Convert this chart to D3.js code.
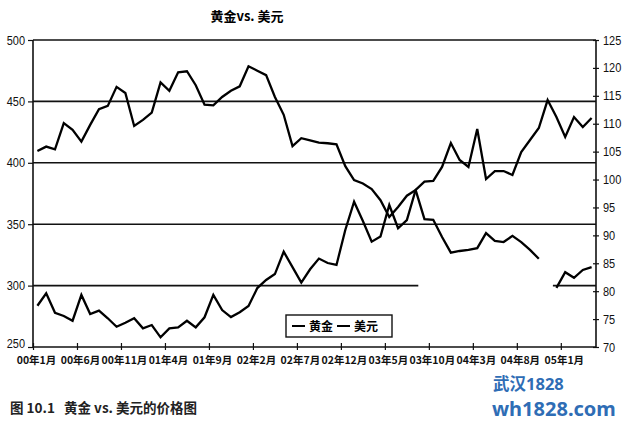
<!DOCTYPE html>
<html>
<head>
<meta charset="utf-8">
<script src="https://cdn.jsdelivr.net/npm/d3@7/dist/d3.min.js"></script>
<style>
  html, body { margin: 0; padding: 0; background: #fff; }
  svg { display: block; }
</style>
</head>
<body>
<svg id="chart" width="623" height="421"></svg>
<script>
// ---- data (monthly, Jan 2000 .. Apr 2005) ----
const monthCount = 64;
const tickMonths = [0, 5, 10, 15, 20, 25, 30, 35, 40, 45, 50, 55, 60];
const tickLabels = ["00年1月", "00年6月", "00年11月", "01年4月", "01年9月", "02年2月", "02年7月",
                    "02年12月", "03年5月", "03年10月", "04年3月", "04年8月", "05年1月"];
const leftTicks = [250, 300, 350, 400, 450, 500];
const rightTicks = [70, 75, 80, 85, 90, 95, 100, 105, 110, 115, 120, 125];
const gridValues = [300, 350, 400, 450, 500];

// 黄金 (left axis)
const gold = [283.6, 293.7, 277.9, 275.3, 271.4, 292.4, 276.9, 279.6, 273.4, 266.5,
              269.8, 273.4, 265.2, 267.9, 257.9, 265.2, 266.0, 271.4, 266.0, 274.2,
              292.4, 280.1, 274.4, 278.3, 283.4, 298.0, 304.6, 309.4, 327.6, 315.0,
              302.5, 313.3, 322.0, 318.4, 316.8, 345.3, 368.3, 352.6, 335.8, 339.9,
              365.6, 346.7, 353.4, 377.9, 384.6, 385.2, 396.6, 416.1, 402.3, 396.6,
              427.5, 386.8, 393.3, 393.3, 390.1, 408.8, 418.6, 428.3, 451.1, 437.3,
              421.0, 437.3, 429.2, 436.5];
// 美元 (right axis); null = missing
const dollar = [105.1, 105.9, 105.4, 110.1, 108.9, 106.8, 109.8, 112.6, 113.2, 116.6,
                115.5, 109.6, 110.7, 112.0, 117.4, 115.9, 119.2, 119.4, 116.9, 113.4,
                113.3, 114.8, 115.9, 116.7, 120.3, 119.5, 118.7, 114.8, 111.6, 106.0,
                107.4, 107.0, 106.6, 106.5, 106.3, 102.4, 99.9, 99.3, 98.3, 96.3,
                93.3, 95.1, 97.1, 98.1, 92.9, 92.8, 89.7, 86.9, 87.2, 87.4,
                87.7, 90.4, 89.0, 88.8, 89.9, 88.8, 87.4, 85.8, null, 80.6,
                83.4, 82.4, 83.8, 84.3];
const seriesNames = ["黄金", "美元"];
const gridGap300 = [43.8, 59.1]; // months where the 300 line is broken

// ---- layout ----
const svg = d3.select("#chart");
const L = 33, R = 596, T = 40, B = 347;
const x = d3.scaleLinear().domain([0, monthCount]).range([L, R]);
const yL = d3.scaleLinear().domain([250, 500]).range([B, T]);
const yR = d3.scaleLinear().domain([70, 125]).range([B, T]);
const numFont = "'Liberation Sans',Arial,sans-serif";
const cjk = "'Noto Sans CJK SC','Noto Sans',sans-serif";

svg.append("rect").attr("width", 623).attr("height", 421).attr("fill", "#fff");

// title
svg.append("text").attr("x", 247).attr("y", 21).attr("text-anchor", "middle")
  .attr("font-family", cjk).attr("font-weight", 700).attr("font-size", 13)
  .text("黄金vs. 美元");

// gridlines
const grid = svg.append("g").attr("stroke", "#111").attr("stroke-width", 1.6);
gridValues.forEach(v => {
  if (v === 300) {
    grid.append("line").attr("x1", x(0)).attr("x2", x(gridGap300[0])).attr("y1", yL(v)).attr("y2", yL(v));
    grid.append("line").attr("x1", x(gridGap300[1])).attr("x2", x(monthCount)).attr("y1", yL(v)).attr("y2", yL(v));
  } else {
    grid.append("line").attr("x1", x(0)).attr("x2", x(monthCount)).attr("y1", yL(v)).attr("y2", yL(v));
  }
});

// condensed numeric labels
function condense(sel) {
  sel.attr("font-family", numFont).attr("font-size", 12.5).attr("fill", "#111")
    .attr("lengthAdjust", "spacingAndGlyphs")
    .attr("textLength", function () { return this.textContent.length * 6.1; });
}

// axes
const leftAxis = d3.axisLeft(yL).tickValues(leftTicks).tickSize(5).tickPadding(3);
const gL = svg.append("g").attr("transform", `translate(${L},0)`).call(leftAxis);
gL.selectAll("text").call(condense);
gL.selectAll(".tick text").filter(d => d === leftTicks[0]).attr("dy", "0.05em");

const rightAxis = d3.axisRight(yR).tickValues(rightTicks).tickSize(3).tickPadding(4);
const gR = svg.append("g").attr("transform", `translate(${R},0)`).call(rightAxis);
gR.selectAll("text").call(condense);
gR.selectAll(".tick line").attr("x1", -3);

const bottomAxis = d3.axisBottom(x).tickValues(tickMonths)
  .tickFormat((d, i) => tickLabels[i]).tickSize(3).tickPadding(7);
const gB = svg.append("g").attr("transform", `translate(0,${B})`).call(bottomAxis);
gB.selectAll("text").attr("font-family", cjk).attr("font-weight", 700).attr("font-size", 10.5)
  .attr("fill", "#111").attr("dx", 3);
gB.selectAll(".tick line").attr("y1", -4);

[gL, gR, gB].forEach(g => {
  g.select(".domain").attr("stroke", "#111").attr("stroke-width", 1.6);
  g.selectAll(".tick line").attr("stroke", "#111").attr("stroke-width", 1.2);
});
gB.select(".domain").attr("d", `M${L},0H${R}`);
gL.select(".domain").attr("d", `M0,${T}V${B}`);
gR.select(".domain").attr("d", `M0,${T}V${B}`);

// lines
const lineL = d3.line().defined(d => d != null).x((d, i) => x(i + 0.5)).y(d => yL(d));
const lineR = d3.line().defined(d => d != null).x((d, i) => x(i + 0.5)).y(d => yR(d));
svg.append("path").datum(gold).attr("d", lineL).attr("fill", "none")
  .attr("stroke", "#000").attr("stroke-width", 2.3).attr("stroke-linejoin", "miter");
svg.append("path").datum(dollar).attr("d", lineR).attr("fill", "none")
  .attr("stroke", "#000").attr("stroke-width", 2.3).attr("stroke-linejoin", "miter");

// legend
const lg = svg.append("g");
lg.append("rect").attr("x", 286).attr("y", 315).attr("width", 106).attr("height", 22)
  .attr("fill", "#fff").attr("stroke", "#111").attr("stroke-width", 1.4);
const legendItems = [{ name: seriesNames[0], x0: 292 }, { name: seriesNames[1], x0: 337 }];
legendItems.forEach(it => {
  lg.append("line").attr("x1", it.x0).attr("x2", it.x0 + 13).attr("y1", 326).attr("y2", 326)
    .attr("stroke", "#000").attr("stroke-width", 2);
  lg.append("text").attr("x", it.x0 + 17).attr("y", 331)
    .attr("font-family", cjk).attr("font-weight", 700).attr("font-size", 12).text(it.name);
});

// caption
svg.append("text").attr("x", 10).attr("y", 413)
  .attr("font-family", cjk).attr("font-weight", 700).attr("font-size", 13.5).attr("fill", "#222")
  .attr("xml:space", "preserve").style("white-space", "pre")
  .text("图 10.1   黄金 vs. 美元的价格图");

// watermark
svg.append("text").attr("x", 493).attr("y", 390)
  .attr("font-family", "'Noto Sans','Noto Sans CJK SC',sans-serif").attr("font-weight", 700)
  .attr("font-size", 16.5).attr("fill", "#2f6db5").text("武汉1828");
svg.append("text").attr("x", 492).attr("y", 416)
  .attr("font-family", "'Noto Sans',sans-serif").attr("font-weight", 700)
  .attr("font-size", 20).attr("fill", "#2f6db5").text("wh1828.com");
</script>
</body>
</html>
